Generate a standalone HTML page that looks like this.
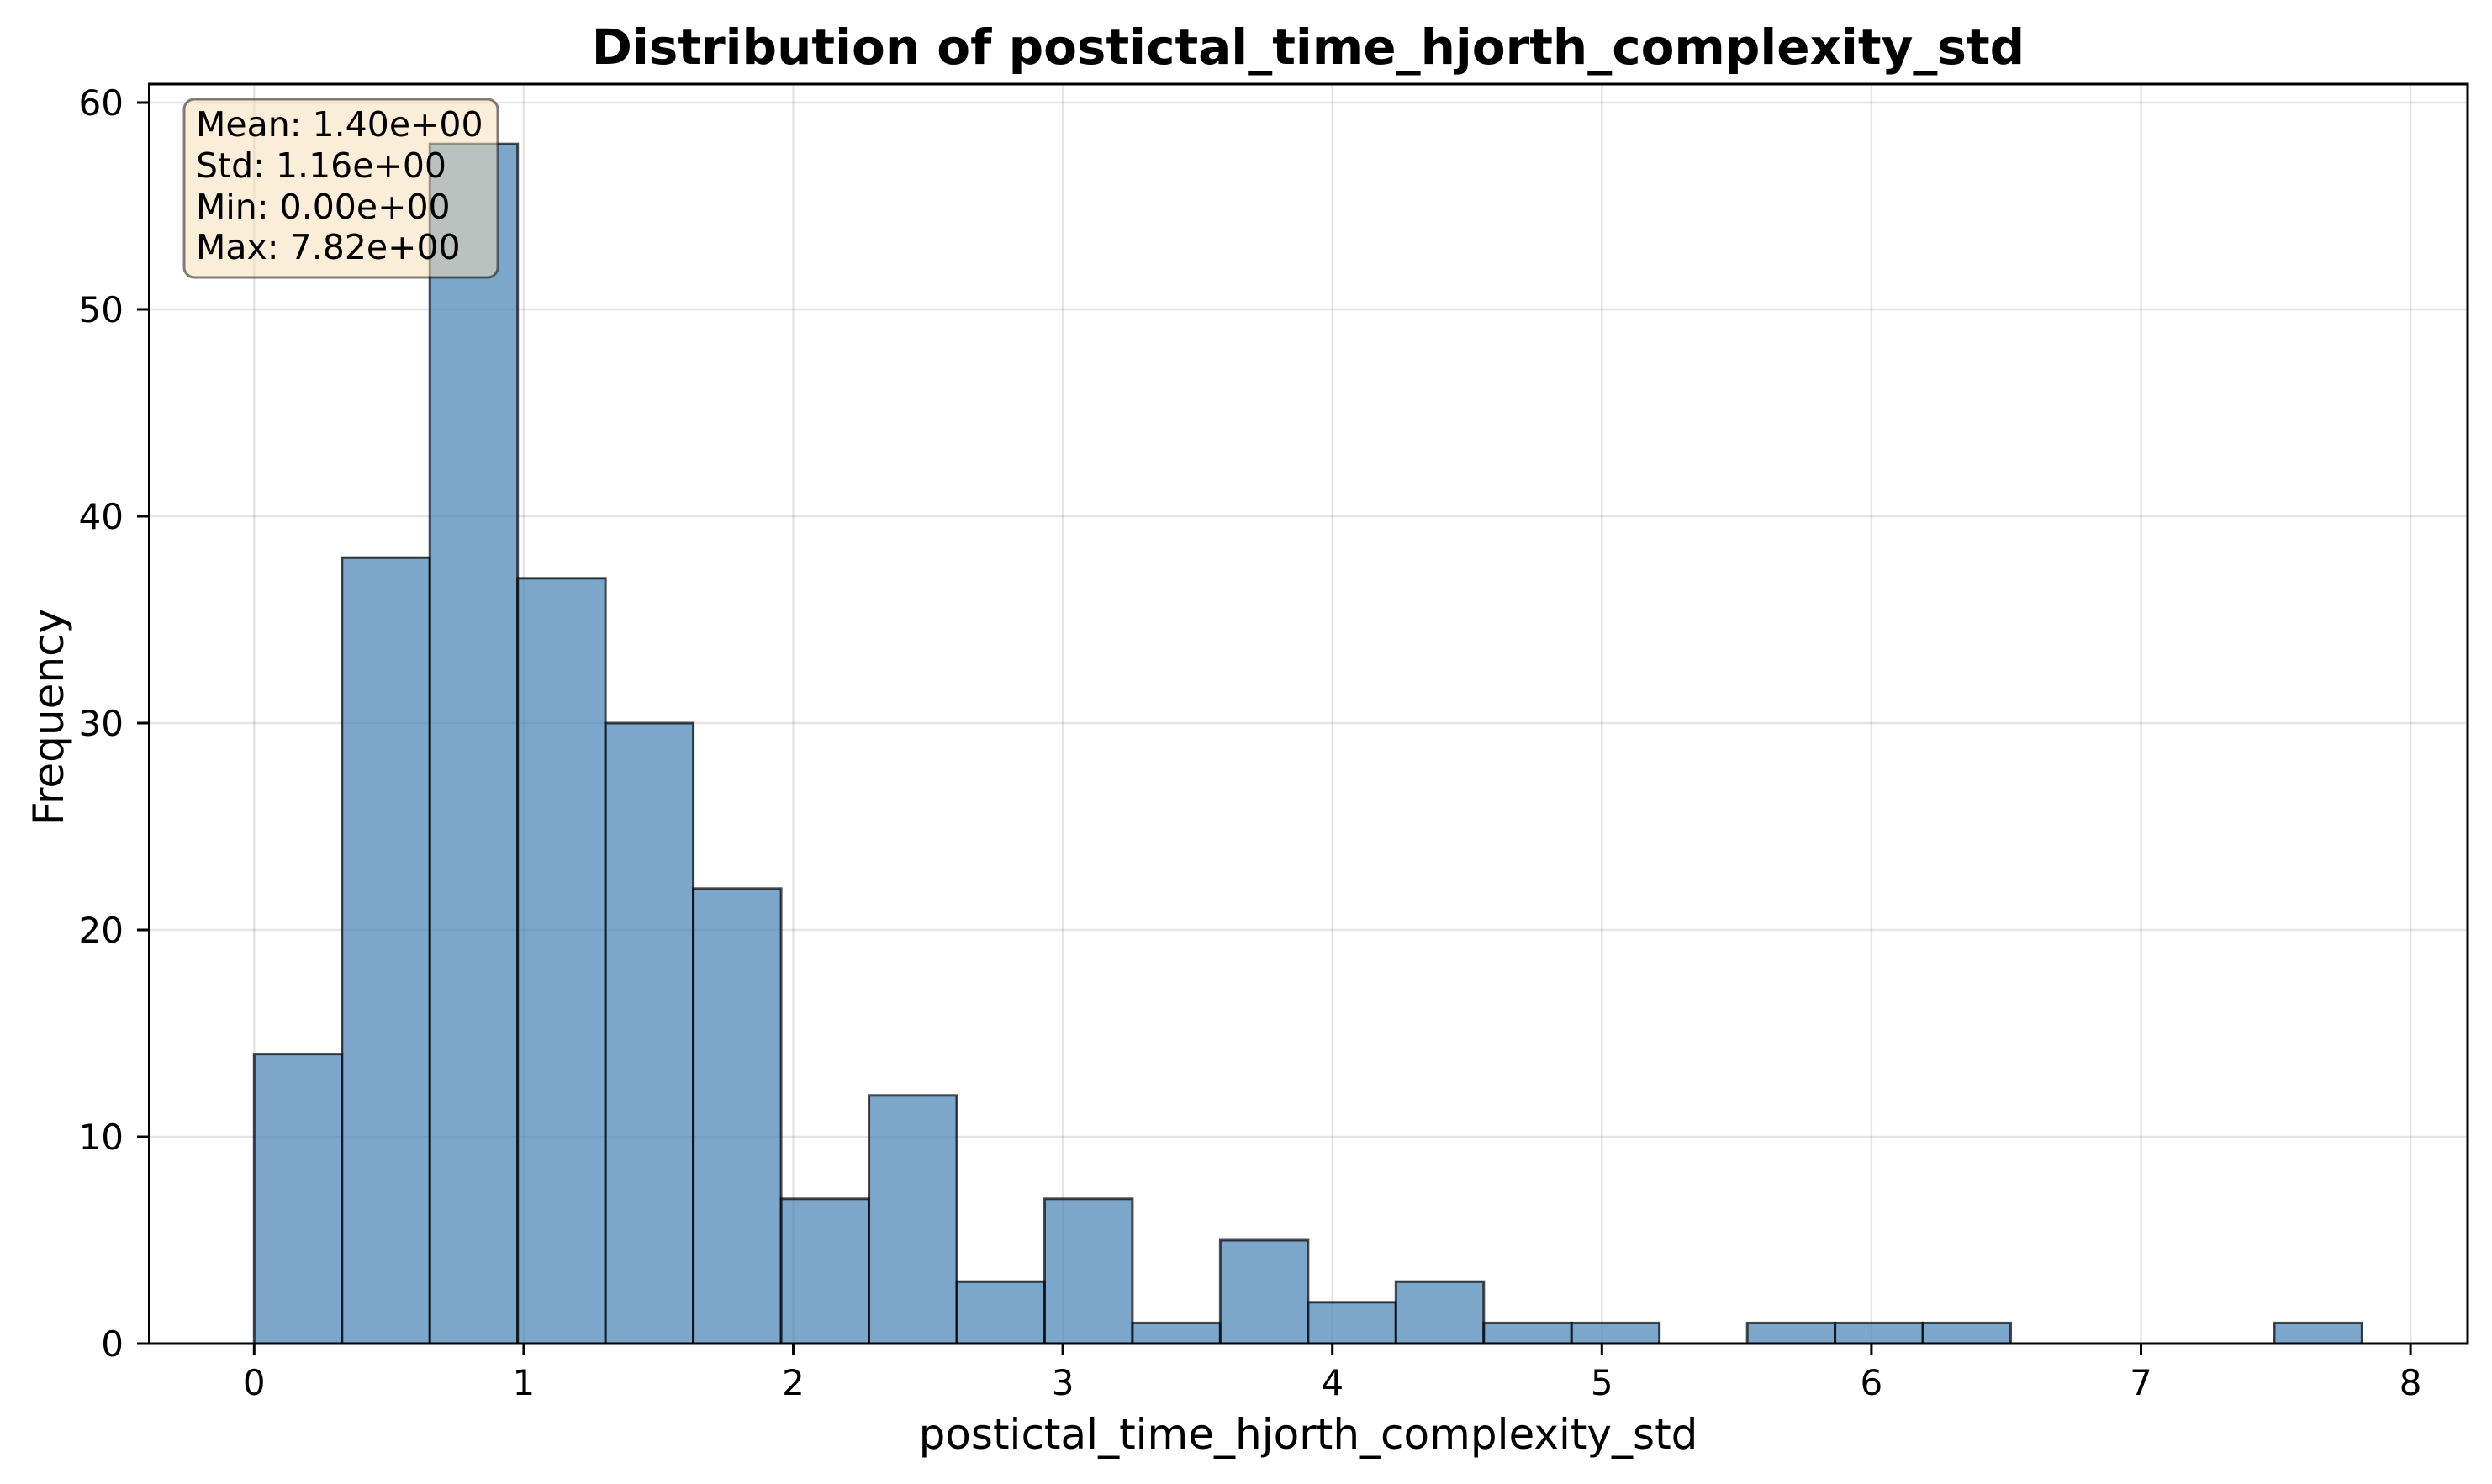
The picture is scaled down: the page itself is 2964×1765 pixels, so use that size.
<!DOCTYPE html>
<html><head><meta charset="utf-8"><style>
html,body{margin:0;padding:0;background:#fff}
svg{display:block}
text{font-family:"DejaVu Sans","Liberation Sans",sans-serif;fill:#000}
</style></head><body>
<svg id="chart" width="2964" height="1765" viewBox="0 0 2964 1765" xmlns="http://www.w3.org/2000/svg">
<rect width="2964" height="1765" fill="#fff"/>
<g id="grid"></g>
<g id="bars"></g>
<rect x="177.5" y="100" width="2757.5" height="1498" fill="none" stroke="#000" stroke-width="3"/>
<g id="ticks"></g>
<text x="1556" y="76" text-anchor="middle" font-size="58" font-weight="bold">Distribution of postictal_time_hjorth_complexity_std</text>
<text x="1556" y="1723" text-anchor="middle" font-size="50">postictal_time_hjorth_complexity_std</text>
<text transform="translate(75,853) rotate(-90)" text-anchor="middle" font-size="50">Frequency</text>
<g>
<rect x="219" y="118" width="373" height="212" rx="12" fill="#f5deb3" fill-opacity="0.5" stroke="#000" stroke-opacity="0.5" stroke-width="3"/>
<text x="233" y="162" font-size="41">Mean: 1.40e+00</text>
<text x="233" y="211" font-size="41">Std: 1.16e+00</text>
<text x="233" y="260" font-size="41">Min: 0.00e+00</text>
<text x="233" y="308" font-size="41">Max: 7.82e+00</text>
</g>
</svg>
<script>
const counts = [14,38,58,37,30,22,7,12,3,7,1,5,2,3,1,1,0,1,1,1,0,0,0,1];
const binMin = 0;
const binMax = 7.82;
const xTicks = [0,1,2,3,4,5,6,7,8];
const yTicks = [0,10,20,30,40,50,60];
const NS = 'http://www.w3.org/2000/svg';
const X0 = 302.3, XS = 320.6, Y0 = 1598, YS = 24.6;
function xs(v){return X0 + v*XS;}
function ys(v){return Y0 - v*YS;}
function mk(tag, attrs, parent){const e=document.createElementNS(NS,tag);for(const k in attrs)e.setAttribute(k,attrs[k]);parent.appendChild(e);return e;}
const grid=document.getElementById('grid'), bars=document.getElementById('bars'), ticks=document.getElementById('ticks');
xTicks.forEach(t=>{
  const g=mk('line',{x1:xs(t),x2:xs(t),y1:100,y2:1598,stroke:'#000','stroke-opacity':0.1,'stroke-width':2.5},grid);
  
  
  const tk=mk('line',{x1:xs(t),x2:xs(t),y1:1598,y2:1612,stroke:'#000','stroke-width':3},ticks);
  
  
  const lb=mk('text',{x:xs(t),y:1659,'text-anchor':'middle','font-size':42},ticks);
  lb.textContent=t;
  
  
});
yTicks.forEach(t=>{
  const g=mk('line',{x1:177.5,x2:2935,y1:ys(t),y2:ys(t),stroke:'#000','stroke-opacity':0.1,'stroke-width':2.5},grid);
  
  
  const tk=mk('line',{x1:163,x2:177.5,y1:ys(t),y2:ys(t),stroke:'#000','stroke-width':3},ticks);
  
  
  const lb=mk('text',{x:147,y:ys(t)+15,'text-anchor':'end','font-size':42},ticks);
  lb.textContent=t;
  
  
});
const bw=(binMax-binMin)/counts.length;
counts.forEach((c,i)=>{
  if(c<=0) return;
  const a=binMin+i*bw, b=a+bw;
  const r=mk('rect',{x:xs(a),y:ys(c),width:xs(b)-xs(a),height:ys(0)-ys(c),fill:'#4682b4','fill-opacity':0.7,stroke:'#000','stroke-opacity':0.7,'stroke-width':3},bars);
  
  
});
</script>
</body></html>
